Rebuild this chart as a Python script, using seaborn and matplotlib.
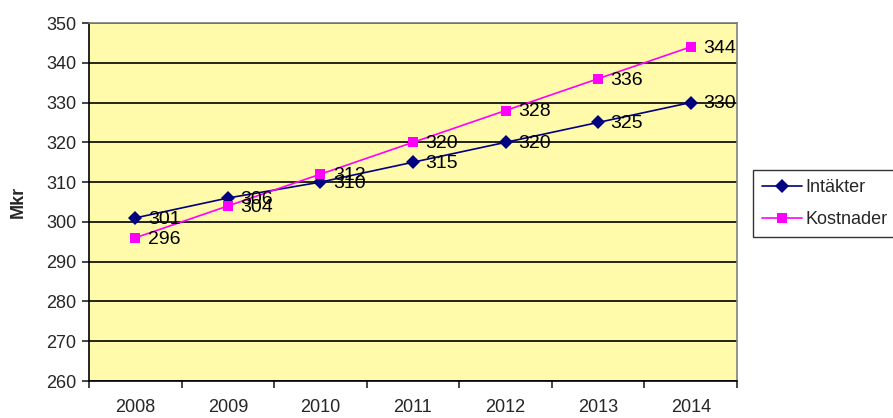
import numpy as np
import pandas as pd
import seaborn as sns
import matplotlib.pyplot as plt
from matplotlib.lines import Line2D

# Data
years = ['2008', '2009', '2010', '2011', '2012', '2013', '2014']
intakter = [301, 306, 310, 315, 320, 325, 330]
kostnader = [296, 304, 312, 320, 328, 336, 344]
series_names = ['Intäkter', 'Kostnader']

df = pd.DataFrame({
    'pos': list(range(len(years))) * 2,
    'value': intakter + kostnader,
    'serie': [series_names[0]] * len(years) + [series_names[1]] * len(years),
})

sns.set_style('white')
plt.rcParams['font.family'] = ['Liberation Sans', 'DejaVu Sans']

fig = plt.figure(figsize=(8.93, 4.18), dpi=100)
ax = fig.add_axes([89 / 893, 1 - 381 / 418, 648 / 893, 358 / 418])
ax.set_facecolor('#FFFBAA')

colors = {'Intäkter': '#000080', 'Kostnader': '#FF00FF'}
markers = {'Intäkter': 'D', 'Kostnader': 's'}
sns.lineplot(data=df, x='pos', y='value', hue='serie', style='serie',
             palette=colors, markers=markers, dashes=False,
             markersize=7, linewidth=1.2, markeredgewidth=0, ax=ax, legend=False)

# Data labels
for vals in (intakter, kostnader):
    for i, v in enumerate(vals):
        ax.annotate(str(v), (i, v), xytext=(9, -1), textcoords='offset points',
                    ha='left', va='center', fontsize=14, color='black')

ax.set_xlim(-0.5, len(years) - 0.5)
ax.set_ylim(260, 350)
ax.set_yticks(np.arange(260, 351, 10))
ax.tick_params(axis='y', labelsize=13, length=5, width=1.2, direction='out', left=True, pad=4)
ax.set_xticks(np.arange(-0.5, len(years), 1))
ax.set_xticklabels([])
ax.set_xticks(range(len(years)), minor=True)
ax.set_xticklabels(years, minor=True)
ax.tick_params(axis='x', which='major', length=5, width=1.2, direction='out', bottom=True)
ax.tick_params(axis='x', which='minor', length=0, labelsize=13, pad=13)

ax.grid(axis='y', color='black', linewidth=1.2)
ax.set_axisbelow(True)
for s in ['left', 'bottom']:
    ax.spines[s].set_color('black')
    ax.spines[s].set_linewidth(1.2)
for s in ['top', 'right']:
    ax.spines[s].set_color('#808080')
    ax.spines[s].set_linewidth(1.2)

ax.set_xlabel('')
ax.set_ylabel('Mkr', fontsize=13, fontweight='bold', labelpad=14)

# Legend
handles = [Line2D([], [], color=colors[n], marker=markers[n], markersize=7,
                  markeredgewidth=0, linewidth=1.2) for n in series_names]
leg = fig.legend(handles, series_names, loc='upper left',
                 bbox_to_anchor=(753 / 893, 1 - 170 / 418), borderaxespad=0,
                 fontsize=13, frameon=True, fancybox=False, edgecolor='black',
                 borderpad=0.5, handlelength=2.2, labelspacing=0.85, handletextpad=0.2)
leg.get_frame().set_linewidth(1.0)

fig.savefig('out.png', dpi=100)
